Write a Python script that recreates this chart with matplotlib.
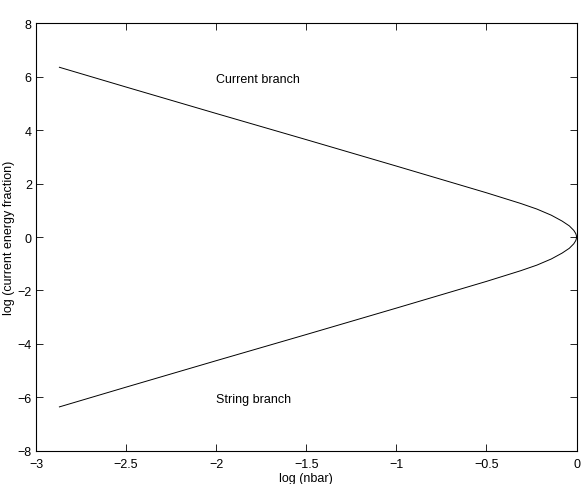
import matplotlib
matplotlib.use('Agg')
import matplotlib.pyplot as plt

# points, upper (current) branch from left end to vertex
x_upper = [-2.87, -2.5, -2.0, -1.5, -1.0, -0.75, -0.5, -0.31, -0.22, -0.14, -0.08, -0.04, -0.015, -0.004, -0.001, 0.0]
y_upper = [6.36, 5.62, 4.63, 3.65, 2.66, 2.16, 1.66, 1.26, 1.05, 0.82, 0.60, 0.42, 0.25, 0.13, 0.065, 0.0]

# lower (string) branch from vertex back to left end
x_lower = [-0.001, -0.004, -0.015, -0.04, -0.08, -0.14, -0.22, -0.31, -0.5, -0.75, -1.0, -1.5, -2.0, -2.5, -2.87]
y_lower = [-0.065, -0.13, -0.25, -0.42, -0.60, -0.82, -1.05, -1.26, -1.66, -2.16, -2.66, -3.65, -4.63, -5.62, -6.36]

x_ticks = [-3, -2.5, -2, -1.5, -1, -0.5, 0]
x_tick_labels = ['\u22123', '\u22122.5', '\u22122', '\u22121.5', '\u22121', '\u22120.5', '0']
y_ticks = [-8, -6, -4, -2, 0, 2, 4, 6, 8]
y_tick_labels = ['\u22128', '\u22126', '\u22124', '\u22122', '0', '2', '4', '6', '8']

plt.rcParams['font.family'] = ['Liberation Sans', 'DejaVu Sans']

fig = plt.figure(figsize=(5.86, 4.85), dpi=100)
ax = fig.add_axes([0.0614, 0.0687, 0.9224, 0.8808])

ax.plot(x_upper + x_lower, y_upper + y_lower, color='black', linewidth=0.7)

ax.text(-2.0, 5.93, 'Current branch', fontsize=9, ha='left', va='center')
ax.text(-2.0, -6.05, 'String branch', fontsize=9, ha='left', va='center')

ax.set_xlim(-3, 0)
ax.set_ylim(-8, 8)
ax.set_xticks(x_ticks)
ax.set_xticklabels(x_tick_labels)
ax.set_yticks(y_ticks)
ax.set_yticklabels(y_tick_labels)
ax.tick_params(direction='in', length=5, width=0.6, labelsize=9,
               top=True, right=True)
ax.tick_params(axis='x', pad=5)
ax.tick_params(axis='y', pad=3)
for s in ax.spines.values():
    s.set_linewidth(0.8)

ax.set_xlabel('log (nbar)', fontsize=9, labelpad=2)
ax.set_ylabel('log (current energy fraction)', fontsize=9, labelpad=2)

fig.savefig('out.png', dpi=100)
